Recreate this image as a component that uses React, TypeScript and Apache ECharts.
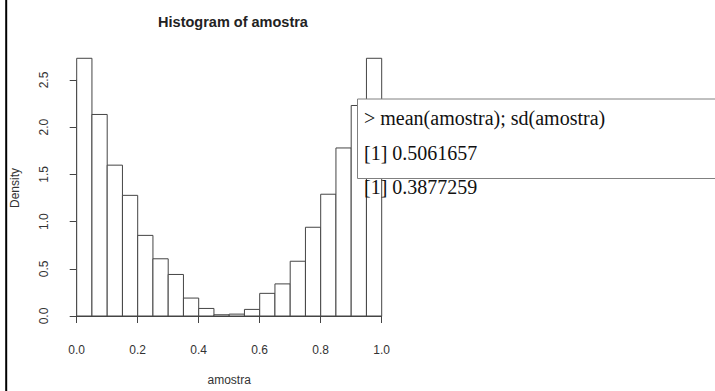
import React, { useEffect, useRef } from "react";
import * as echarts from "echarts";

const breaks = [0, 0.05, 0.1, 0.15, 0.2, 0.25, 0.3, 0.35, 0.4, 0.45, 0.5, 0.55, 0.6, 0.65, 0.7, 0.75, 0.8, 0.85, 0.9, 0.95, 1.0];
const densities = [2.73, 2.135, 1.598, 1.278, 0.854, 0.606, 0.44, 0.19, 0.08, 0.013, 0.02, 0.07, 0.24, 0.34, 0.58, 0.94, 1.29, 1.78, 2.23, 2.73];
const xTicks = [0, 0.2, 0.4, 0.6, 0.8, 1.0];
const yTicks = [0, 0.5, 1.0, 1.5, 2.0, 2.5];
const titleText = "Histogram of amostra";
const xLabel = "amostra";
const yLabel = "Density";
const consoleLines = ["> mean(amostra); sd(amostra)", "[1] 0.5061657", "[1] 0.3877259"];

export default function App() {
  const ref = useRef<HTMLDivElement>(null);
  useEffect(() => {
    if (!ref.current) return;
    const chart = echarts.init(ref.current, undefined, { renderer: "svg" });
    const data = densities.map((d, i) => [breaks[i], breaks[i + 1], d]);
    const sans = "Liberation Sans, Arial, sans-serif";
    const serif = "Liberation Serif, Times New Roman, serif";
    chart.setOption({
      animation: false,
      backgroundColor: "#fff",
      title: {
        text: titleText,
        left: 228,
        top: 9,
        textAlign: "center",
        textStyle: { fontFamily: sans, fontSize: 14.5, fontWeight: "bold", color: "#222" },
      },
      grid: { left: 76.7, right: 333.3, top: 80, bottom: 69 },
      xAxis: {
        type: "value",
        min: xTicks[0],
        max: xTicks[xTicks.length - 1],
        interval: 0.2,
        offset: 11,
        splitLine: { show: false },
        axisLine: { show: true, lineStyle: { color: "#444", width: 1 } },
        axisTick: { show: true, length: 7, lineStyle: { color: "#444" } },
        axisLabel: {
          margin: 17,
          fontFamily: sans,
          fontSize: 12,
          color: "#333",
          formatter: (v: number) => v.toFixed(1),
        },
        name: xLabel,
        nameLocation: "middle",
        nameGap: 47,
        nameTextStyle: { fontFamily: sans, fontSize: 12, color: "#333" },
      },
      yAxis: {
        type: "value",
        min: yTicks[0],
        max: yTicks[yTicks.length - 1],
        interval: 0.5,
        offset: 11.7,
        splitLine: { show: false },
        axisLine: { show: true, lineStyle: { color: "#444", width: 1 } },
        axisTick: { show: true, length: 7, lineStyle: { color: "#444" } },
        axisLabel: {
          rotate: 90,
          margin: 15,
          fontFamily: sans,
          fontSize: 12,
          color: "#333",
          formatter: (v: number) => v.toFixed(1),
        },
      },
      series: [
        {
          type: "custom",
          clip: false,
          data,
          encode: { x: [0, 1], y: 2 },
          renderItem: (params: any, api: any) => {
            const p0 = api.coord([api.value(0), api.value(2)]);
            const p1 = api.coord([api.value(1), 0]);
            return {
              type: "rect",
              shape: { x: p0[0], y: p0[1], width: p1[0] - p0[0], height: p1[1] - p0[1] },
              style: { fill: "#fff", stroke: "#444", lineWidth: 1 },
            };
          },
        },
      ],
      graphic: [
        {
          type: "line",
          z: 100,
          shape: { x1: 6.2, y1: 0, x2: 6.2, y2: 391 },
          style: { stroke: "#000", lineWidth: 2 },
        },
        {
          type: "text",
          z: 100,
          x: 15,
          y: 188,
          rotation: Math.PI / 2,
          style: {
            text: yLabel,
            fontFamily: sans,
            fontSize: 12,
            fill: "#333",
            align: "center",
            verticalAlign: "middle",
          },
        },
        {
          type: "rect",
          z: 100,
          shape: { x: 357.5, y: 99, width: 400, height: 79.5 },
          style: { fill: "#fff", stroke: "#808080", lineWidth: 1 },
        },
        ...consoleLines.map((t, i) => ({
          type: "text",
          z: 101,
          x: 364,
          y: [118, 153, 187][i],
          style: {
            text: t,
            fontFamily: serif,
            fontSize: 20,
            fill: "#111",
            align: "left",
            verticalAlign: "middle",
          },
        })),
      ],
    });
    return () => chart.dispose();
  }, []);
  return (
    <div
      ref={ref}
      style={{ position: "fixed", left: 0, top: 0, width: 715, height: 391, background: "#fff" }}
    />
  );
}
